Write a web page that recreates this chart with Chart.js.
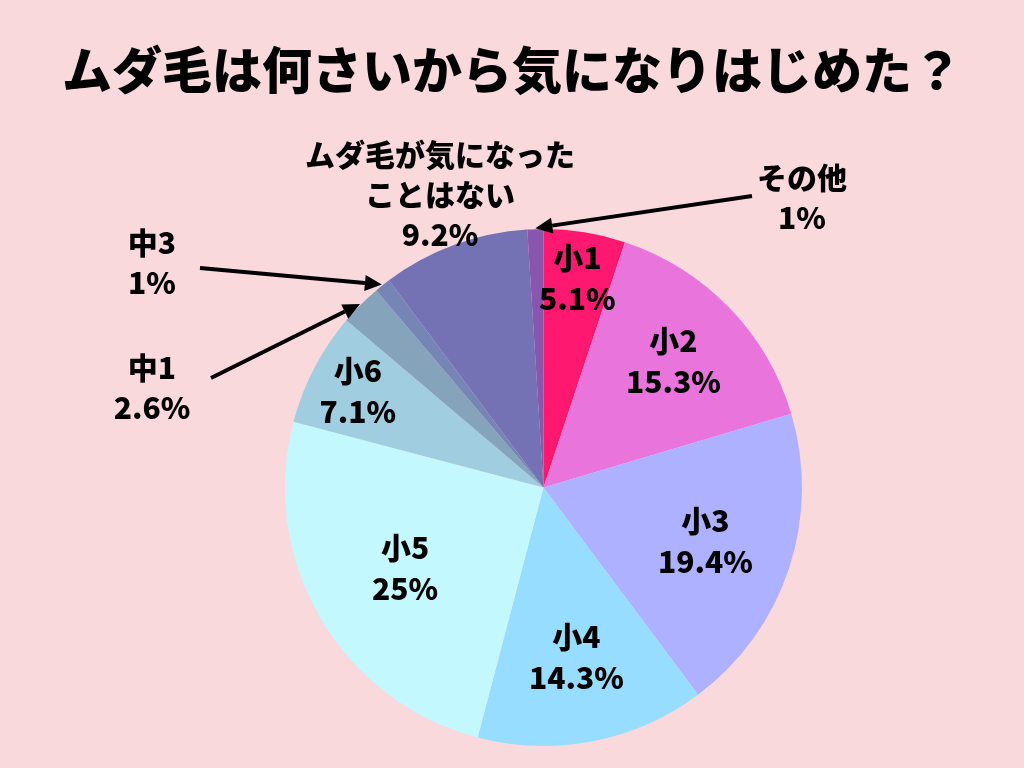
<!DOCTYPE html>
<html>
<head>
<meta charset="utf-8">
<script src="https://cdn.jsdelivr.net/npm/chart.js@4"></script>
<style>
html,body{margin:0;padding:0;background:#FAD9DD;}
#wrap{width:1024px;height:768px;position:relative;}
</style>
</head>
<body>
<div id="wrap"><canvas id="c" width="1024" height="768"></canvas></div>
<script>
const titleText = 'ムダ毛は何さいから気になりはじめた？';
const categories = ['小1','小2','小3','小4','小5','小6','中1','中3','ムダ毛が気になったことはない','その他'];
const values = [5.1, 15.3, 19.4, 14.3, 25, 7.1, 2.6, 1, 9.2, 1];
const valueLabels = ['5.1%','15.3%','19.4%','14.3%','25%','7.1%','2.6%','1%','9.2%','1%'];
const colors = ['#FF1870','#E874DC','#ADB1FF','#97DDFF','#C4F8FF','#A0CDE0','#86A3BC','#7585B6','#7471B5','#8955AF'];

// label layout (not data): inside labels use radial fraction; outside ones use fixed text anchor + arrow
const labelLayout = [
  {type:'in', r:0.82, lines:['小1']},
  {type:'in', r:0.70, lines:['小2']},
  {type:'in', r:0.66, lines:['小3']},
  {type:'in', r:0.67, lines:['小4']},
  {type:'in', r:0.62, lines:['小5']},
  {type:'in', r:0.81, lines:['小6']},
  {type:'out', x:152, y:368, lines:['中1'], ax:211, ay:378},
  {type:'out', x:152, y:243, lines:['中3'], ax:200, ay:268},
  {type:'out', x:440, y:155, lines:['ムダ毛が気になった','ことはない']},
  {type:'out', x:802, y:178, lines:['その他'], ax:752, ay:196}
];

const FONT = '"Noto Sans CJK JP","Noto Sans",sans-serif';

function drawArrow(ctx, x1, y1, x2, y2){
  const ang = Math.atan2(y2 - y1, x2 - x1);
  const head = 17, half = 8;
  const bx = x2 - head*Math.cos(ang), by = y2 - head*Math.sin(ang);
  ctx.save();
  ctx.strokeStyle = '#000'; ctx.fillStyle = '#000';
  ctx.lineWidth = 4; ctx.lineCap = 'butt';
  ctx.beginPath(); ctx.moveTo(x1, y1); ctx.lineTo(bx, by); ctx.stroke();
  ctx.beginPath();
  ctx.moveTo(x2, y2);
  ctx.lineTo(bx + half*Math.sin(ang), by - half*Math.cos(ang));
  ctx.lineTo(bx - half*Math.sin(ang), by + half*Math.cos(ang));
  ctx.closePath(); ctx.fill();
  ctx.restore();
}

const labelPlugin = {
  id: 'labels',
  afterDraw(chart){
    const ctx = chart.ctx;
    // title
    ctx.save();
    ctx.fillStyle = '#000';
    ctx.textAlign = 'center'; ctx.textBaseline = 'middle';
    ctx.font = '900 50px ' + FONT;
    ctx.fillText(titleText, 512, 70);
    ctx.restore();

    const meta = chart.getDatasetMeta(0);
    ctx.save();
    ctx.fillStyle = '#000';
    ctx.textAlign = 'center'; ctx.textBaseline = 'middle';
    ctx.font = '900 30px ' + FONT;
    const lh = 41;
    meta.data.forEach((arc, i) => {
      const L = labelLayout[i];
      const p = arc.getProps(['x','y','startAngle','endAngle','outerRadius'], true);
      const mid = (p.startAngle + p.endAngle) / 2;
      const lines = L.lines.concat([valueLabels[i]]);
      let cx, cy;
      if (L.type === 'in') {
        cx = p.x + Math.cos(mid) * p.outerRadius * L.r;
        cy = p.y + Math.sin(mid) * p.outerRadius * L.r;
        const top = cy - (lines.length - 1) * lh / 2;
        lines.forEach((t, k) => ctx.fillText(t, cx, top + k * lh));
      } else {
        lines.forEach((t, k) => ctx.fillText(t, L.x, L.y + k * (lh - 1)));
        if (L.ax !== undefined) {
          const tx = p.x + Math.cos(mid) * (p.outerRadius + 1);
          const ty = p.y + Math.sin(mid) * (p.outerRadius + 1);
          drawArrow(ctx, L.ax, L.ay, tx, ty);
        }
      }
    });
    ctx.restore();
  }
};

new Chart(document.getElementById('c'), {
  type: 'pie',
  data: {
    labels: categories,
    datasets: [{
      data: values,
      backgroundColor: colors,
      borderWidth: 0
    }]
  },
  options: {
    responsive: false,
    animation: false,
    layout: { padding: { top: 229, bottom: 22, left: 285, right: 222 } },
    plugins: { legend: { display: false }, tooltip: { enabled: false }, title: { display: false } }
  },
  plugins: [labelPlugin]
});
</script>
</body>
</html>
